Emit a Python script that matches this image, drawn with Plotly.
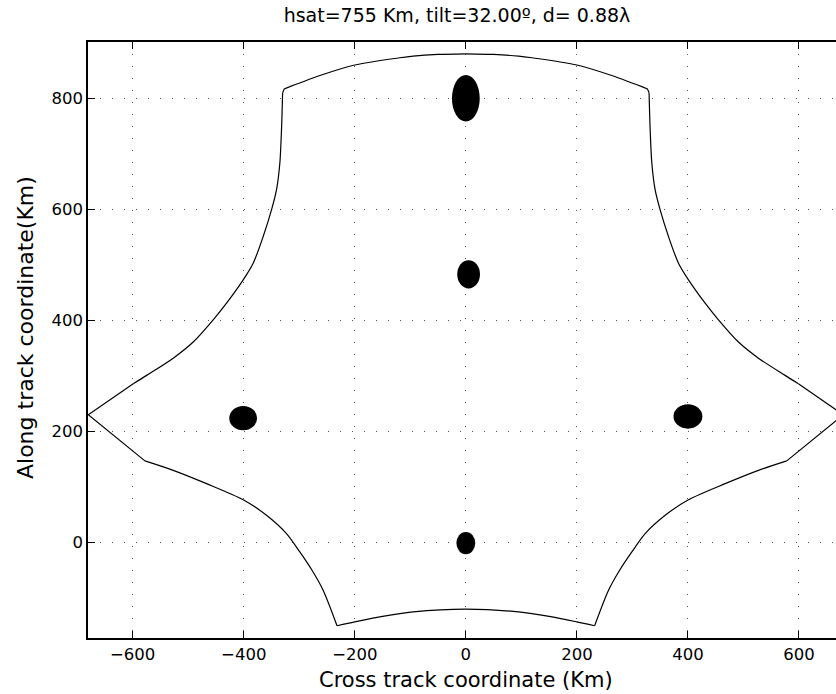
import plotly.graph_objects as go

# Coverage boundary (Km), traced counter-clockwise from the top centre
boundary_x = [0, -50, -95, -119, -200, -260, -317, -327, -330, -332, -335, -341, -350, -365, -383,
              -401, -431, -455, -491, -527, -575, -599, -680, -578, -527, -467, -401, -359, -323,
              -299, -277, -257, -232, -200, -150, -95, 0,
              95, 150, 200, 232, 257, 277, 299, 323, 359, 401, 467, 527, 578, 680, 599, 575, 527, 491,
              455, 431, 401, 383, 365, 350, 341, 335, 332, 330, 327, 317, 260, 200, 119, 95, 50, 0]
boundary_y = [880, 879, 876, 873, 860, 842, 821, 817, 810, 743, 683, 635, 599, 551, 503,
              473, 431, 401, 361, 332, 301, 286, 230, 147, 130, 106, 77, 49, 16,
              -17, -50, -86, -150, -143, -133, -125, -120,
              -125, -133, -143, -150, -86, -50, -17, 16, 49, 77, 106, 130, 147, 230, 286, 301, 332, 361,
              401, 431, 473, 503, 551, 599, 635, 683, 743, 810, 817, 821, 842, 860, 873, 876, 879, 880]

# Boundary pieces (start index, end index, curve type): curved arcs vs. straight/sharp parts
pieces = [(0, 6, "spline"), (6, 8, "linear"), (8, 21, "spline"), (21, 23, "linear"),
          (23, 32, "spline"), (32, 40, "spline"), (40, 49, "spline"), (49, 51, "linear"),
          (51, 64, "spline"), (64, 66, "linear"), (66, 72, "spline")]

# Footprint spots: centre and full width/height (Km)
spot_x = [0, 5, 0, -401, 400]
spot_y = [800, 483, -1, 224, 227]
spot_w = [50, 41, 34, 50, 52]
spot_h = [84, 51, 40, 44, 44]

x_ticks = [-600, -400, -200, 0, 200, 400, 600]
y_ticks = [0, 200, 400, 600, 800]

FONT = "DejaVu Sans"

fig = go.Figure()
for i0, i1, shp in pieces:
    fig.add_trace(go.Scatter(x=boundary_x[i0:i1 + 1], y=boundary_y[i0:i1 + 1], mode="lines",
                             line=dict(color="black", width=1.2, shape=shp, smoothing=0.8),
                             hoverinfo="skip", showlegend=False))

for cx, cy, w, h in zip(spot_x, spot_y, spot_w, spot_h):
    fig.add_shape(type="circle", xref="x", yref="y",
                  x0=cx - w / 2, x1=cx + w / 2, y0=cy - h / 2, y1=cy + h / 2,
                  fillcolor="black", line=dict(width=0))

axis_common = dict(
    showgrid=True, gridcolor="#555", gridwidth=1, griddash="1px,11px",
    zeroline=False, showline=True, linecolor="black", linewidth=1.6,
    ticks="inside", ticklen=7, tickwidth=1.2, tickcolor="black",
    tickfont=dict(family=FONT, size=16.5, color="black"),
)

fig.update_xaxes(range=[-680.5, 666.7], tickvals=x_ticks, mirror="ticks", **axis_common)
fig.update_yaxes(range=[-172, 901.4], tickvals=y_ticks, mirror=False, **axis_common)

W, H = 836, 694
L, T, B = 88, 42, 638
fig.update_layout(
    width=W, height=H,
    margin=dict(l=L, r=0, t=T, b=H - B),
    paper_bgcolor="white", plot_bgcolor="white",
    font=dict(family=FONT, color="black"),
    title=dict(text="hsat=755 Km, tilt=32.00º, d= 0.88λ", x=457 / W, xref="container",
               xanchor="center", y=1 - 15 / H, yref="container", yanchor="middle",
               font=dict(family=FONT, size=19, color="black")),
    annotations=[
        dict(text="Cross track coordinate (Km)", xref="paper", yref="paper",
             x=(466 - L) / (W - L), y=-(680 - B) / (B - T), xanchor="center", yanchor="middle",
             showarrow=False, font=dict(family=FONT, size=21, color="black")),
        dict(text="Along track coordinate(Km)", xref="paper", yref="paper",
             x=-(L - 25) / (W - L), y=(B - 328) / (B - T), xanchor="center", yanchor="middle",
             textangle=-90, showarrow=False, font=dict(family=FONT, size=22, color="black")),
    ],
)

fig.write_html("out.html", config={"displayModeBar": False},
               post_script="document.body.style.margin='0';")
